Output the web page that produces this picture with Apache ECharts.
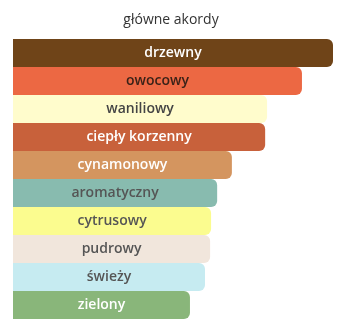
<!DOCTYPE html>
<html><head><meta charset="utf-8">
<script src="https://cdn.jsdelivr.net/npm/echarts@6/dist/echarts.min.js"></script>
<style>html,body{margin:0;padding:0;background:#fff}#c{width:342px;height:324px}</style>
</head><body><div id="c"></div>
<script>
const categories = ['drzewny','owocowy','waniliowy','ciepły korzenny','cynamonowy','aromatyczny','cytrusowy','pudrowy','świeży','zielony'];
const values = [100, 90.3, 79.4, 78.8, 68.4, 63.8, 61.9, 61.6, 60, 55.3];
const barColors = ['#6f4418','#ec6843','#fffccc','#c8613b','#d4955f','#88bbaf','#fbfc8f','#f1e6dc','#c6ebf1','#89b67a'];
const textColors = ['#ffffff','#3a2218','#444444','#ffffff','#ffffff','#555555','#555555','#555555','#555555','#ffffff'];

const chart = echarts.init(document.getElementById('c'));
chart.setOption({
  animation: false,
  title: { text: 'główne akordy', left: 'center', top: 8,
    textStyle: { fontFamily: 'Open Sans', fontSize: 14, fontWeight: 'normal', color: '#333' } },
  grid: { left: 13, right: 9, top: 39, bottom: 5 },
  xAxis: { type: 'value', min: 0, max: 100, show: false },
  yAxis: { type: 'category', data: categories, inverse: true, show: false },
  series: [{
    type: 'bar',
    barCategoryGap: 0,
    data: values.map((v, i) => ({
      value: v,
      itemStyle: { color: barColors[i], borderRadius: [0, 6, 6, 0] },
      label: { color: textColors[i] }
    })),
    label: {
      show: true, position: 'inside',
      formatter: p => categories[p.dataIndex],
      fontFamily: 'Open Sans', fontSize: 14, fontWeight: 600
    }
  }]
});
</script></body></html>
